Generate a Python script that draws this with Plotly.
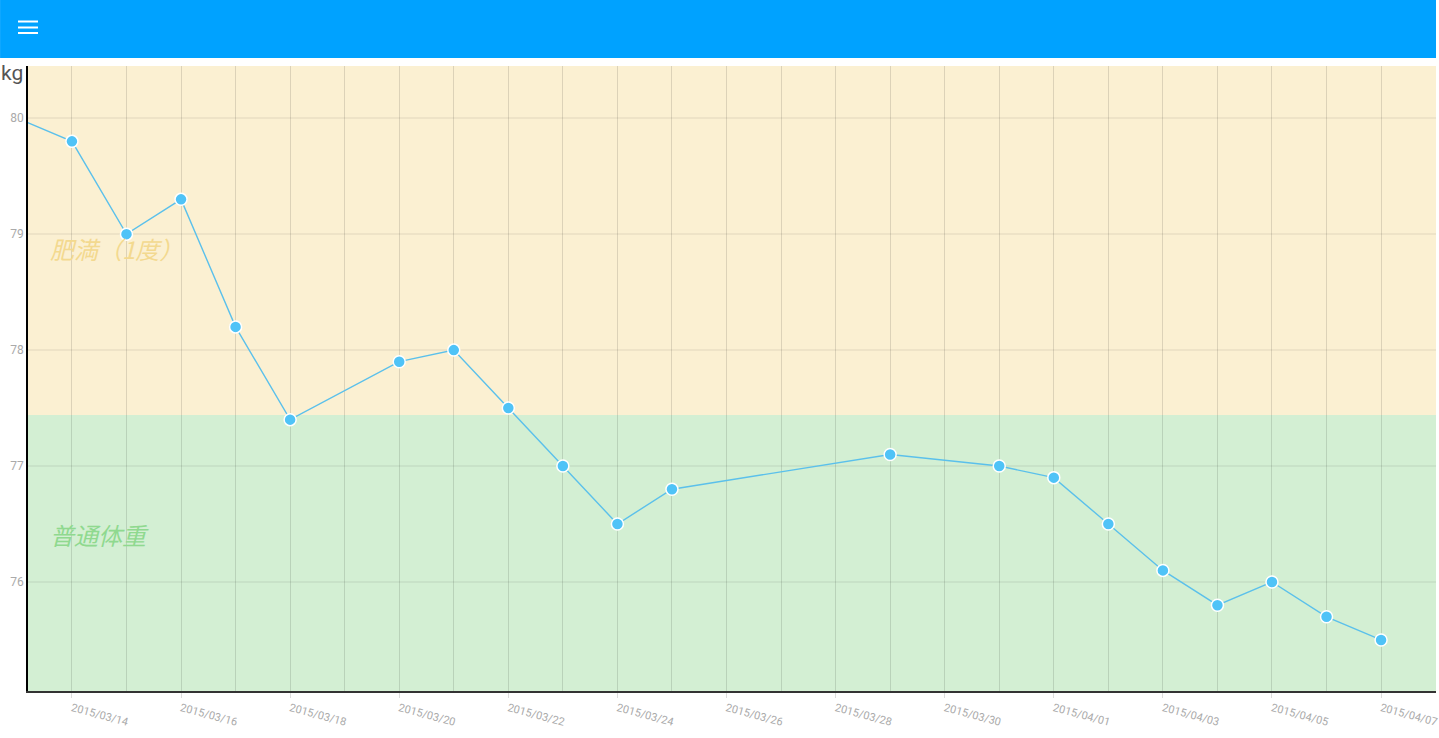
import plotly.graph_objects as go

# ---- data ----
dates = ["2015-03-13", "2015-03-14", "2015-03-15", "2015-03-16", "2015-03-17", "2015-03-18",
         "2015-03-20", "2015-03-21", "2015-03-22", "2015-03-23", "2015-03-24", "2015-03-25",
         "2015-03-29", "2015-03-31", "2015-04-01", "2015-04-02", "2015-04-03", "2015-04-04",
         "2015-04-05", "2015-04-06", "2015-04-07"]
weights = [80.0, 79.8, 79.0, 79.3, 78.2, 77.4,
           77.9, 78.0, 77.5, 77.0, 76.5, 76.8,
           77.1, 77.0, 76.9, 76.5, 76.1, 75.8,
           76.0, 75.7, 75.5]
band_labels = ["肥満（1度）", "普通体重"]
band_bounds = [77.44, 80.45, 75.06]  # boundary, top, bottom
y_ticks = [76, 77, 78, 79, 80]
x_range = ["2015-03-13 04:40", "2015-04-08 00:10"]
unit_label = "kg"

W, H = 1439, 738
ML, MR, MT, MB = 28, 0, 66, 47
PW, PH = W - ML - MR, H - MT - MB

def px(x):
    return (x - ML) / PW

def py(y):
    return (H - MB - y) / PH

fig = go.Figure()
fig.add_trace(go.Scatter(
    x=dates, y=weights, mode="lines+markers",
    line=dict(color="#5BC0EB", width=1.4),
    marker=dict(size=12, color="#4FC3F7", line=dict(color="white", width=1.5)),
    hoverinfo="x+y", showlegend=False, cliponaxis=True,
))

shapes = [
    dict(type="rect", xref="paper", yref="y", x0=0, x1=1, y0=band_bounds[0], y1=band_bounds[1],
         fillcolor="#FBF0D2", line=dict(width=0), layer="below"),
    dict(type="rect", xref="paper", yref="y", x0=0, x1=1, y0=band_bounds[2], y1=band_bounds[0],
         fillcolor="#D3EFD3", line=dict(width=0), layer="below"),
    dict(type="rect", xref="paper", yref="paper", x0=px(0), x1=px(W), y0=py(58), y1=py(0),
         fillcolor="#00A2FF", line=dict(width=0), layer="above"),
]
for yy in (21.5, 27.5, 33):
    shapes.append(dict(type="line", xref="paper", yref="paper", x0=px(18), x1=px(38),
                       y0=py(yy), y1=py(yy), line=dict(color="white", width=2), layer="above"))

annotations = [
    dict(text="<i>" + band_labels[0] + "</i>", xref="paper", yref="y", x=px(48), y=78.88,
         xanchor="left", yanchor="middle", showarrow=False,
         font=dict(family="Noto Sans CJK JP", size=24, color="#F3D98F")),
    dict(text="<i>" + band_labels[1] + "</i>", xref="paper", yref="y", x=px(48), y=76.41,
         xanchor="left", yanchor="middle", showarrow=False,
         font=dict(family="Noto Sans CJK JP", size=24, color="#8FD98F")),
    dict(text=unit_label, xref="paper", yref="paper", x=px(-1), y=py(73), xanchor="left",
         yanchor="middle", showarrow=False,
         font=dict(family="Roboto", size=21, color="#555555")),
]

fig.update_layout(
    width=W, height=H,
    margin=dict(l=ML, r=MR, t=MT, b=MB),
    paper_bgcolor="white", plot_bgcolor="white",
    shapes=shapes, annotations=annotations,
    font=dict(family="Roboto"),
    xaxis=dict(
        type="date", range=x_range,
        tick0="2015-03-14", dtick=2 * 86400000, tickformat="%Y/%m/%d",
        tickangle=15, tickfont=dict(size=11, color="#AAAAAA"),
        ticklabeloverflow="allow",
        showgrid=True, gridcolor="rgba(0,0,0,0.12)", gridwidth=1.3,
        minor=dict(dtick=86400000, showgrid=True, gridcolor="rgba(0,0,0,0.12)", gridwidth=1.3),
        showline=True, linecolor="#333333", linewidth=1.5,
        zeroline=False, ticks="outside", ticklen=5, tickwidth=1.3, tickcolor="#DDDDDD",
        fixedrange=True,
    ),
    yaxis=dict(
        range=[band_bounds[2], band_bounds[1]], tickvals=y_ticks,
        tickfont=dict(size=12, color="#AAAAAA"),
        showgrid=True, gridcolor="rgba(0,0,0,0.05)", gridwidth=1.5,
        showline=True, linecolor="#000000", linewidth=1.5,
        zeroline=False, ticks="", fixedrange=True,
    ),
)

fig.write_html("out.html", config={"displayModeBar": False},
               post_script="document.body.style.margin='0';document.body.style.overflow='hidden';")
